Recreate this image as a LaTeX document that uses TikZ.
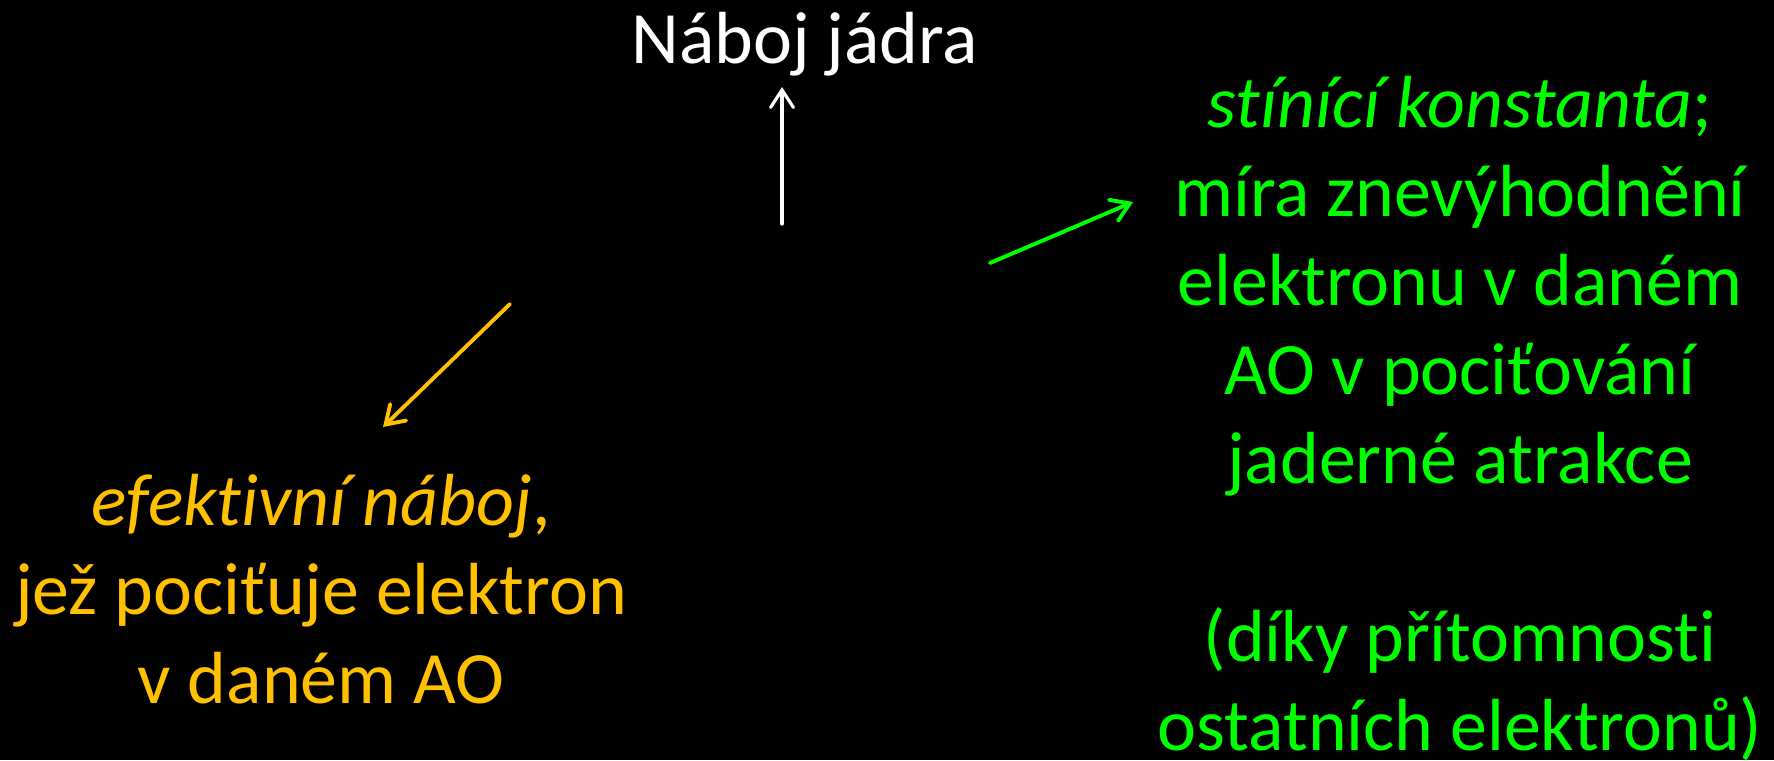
\documentclass[tikz,border=0pt]{standalone}
\usepackage{fontspec}
\setmainfont{Carlito}[Ligatures={NoCommon}]
\usetikzlibrary{arrows.meta}
\definecolor{gold}{HTML}{FFC000}
\definecolor{lime}{HTML}{00FF00}
\tikzset{
  label text/.style={inner sep=0pt, align=center, anchor=base,
    font=\fontsize{21pt}{25.3pt}\selectfont},
  pointer/.style={line width=1.1pt, line cap=round,
    -{Straight Barb[length=5pt,width=6.5pt,line cap=round]}},
}
\begin{document}
\begin{tikzpicture}[x=0.01cm, y=-0.01cm]
  % page and background
  \fill[black] (0,0) rectangle (1774,760);
  \useasboundingbox (0,0) rectangle (1774,760);

  % nucleus charge label
  \node[label text, text=white] (nucleus) at (805,63) {Náboj jádra};

  % effective charge (placed by the baseline of its last line)
  \node[label text, text=gold] (effective) at (321,703)
    {\textit{efektivní náboj},\\ jež pociťuje elektron\\ v daném AO};

  % screening constant (placed by the baseline of its last line)
  \node[label text, text=lime] (screening) at (1460,750)
    {\textit{stínící konstanta};\\ míra znevýhodnění\\ elektronu v daném\\ AO v pociťování\\ jaderné atrakce\\ \strut\\ (díky přítomnosti\\ ostatních elektronů)};

  % arrow ends
  \coordinate (nucFrom) at (782,224);
  \coordinate (nucTo)   at (782,87);
  \coordinate (effFrom) at (510,304);
  \coordinate (effTo)   at (383,427);
  \coordinate (scrFrom) at (990,263);
  \coordinate (scrTo)   at (1133,202);

  \draw[pointer, white, line width=0.9pt] (nucFrom) -- (nucTo);
  \draw[pointer, gold] (effFrom) -- (effTo);
  \draw[pointer, lime] (scrFrom) -- (scrTo);
\end{tikzpicture}
\end{document}
